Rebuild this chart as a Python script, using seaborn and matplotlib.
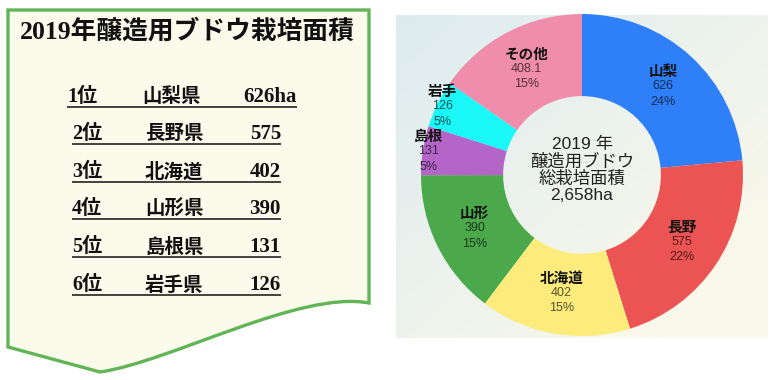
import numpy as np
import matplotlib
matplotlib.use("Agg")
import matplotlib.pyplot as plt
import matplotlib.colors as mcolors
from matplotlib.path import Path
from matplotlib.patches import PathPatch
import seaborn as sns

# ---------------- data ----------------
title = "2019年醸造用ブドウ栽培面積"
ranks = ["1位", "2位", "3位", "4位", "5位", "6位"]
rank_prefs = ["山梨県", "長野県", "北海道", "山形県", "島根県", "岩手県"]
rank_values = ["626ha", "575", "402", "390", "131", "126"]

regions = ["山梨", "長野", "北海道", "山形", "島根", "岩手", "その他"]
areas = [626, 575, 402, 390, 131, 126, 408.1]
value_labels = ["626", "575", "402", "390", "131", "126", "408.1"]
pct_labels = ["24%", "22%", "15%", "15%", "5%", "5%", "15%"]
center_lines = ["2019 年", "醸造用ブドウ", "総栽培面積", "2,658ha"]

slice_colors = ["#2e7ff8", "#ec5353", "#fdec7c", "#4ba84b", "#b466c8", "#1af7f7", "#f08dad"]

# ---------------- style ----------------
sns.set_theme(style="white")
plt.rcParams["font.family"] = ["Liberation Sans", "Noto Sans CJK JP", "DejaVu Sans"]
serif_fam = ["Liberation Serif", "Noto Sans CJK JP", "DejaVu Sans"]

W, H = 780, 380
fig = plt.figure(figsize=(W / 100, H / 100), dpi=100)
fig.patch.set_facecolor("white")

# full-figure pixel axes for decoration and table
bg = fig.add_axes([0, 0, 1, 1])
bg.set_xlim(0, W)
bg.set_ylim(H, 0)
bg.axis("off")

# ---- left document shape ----
verts = [(8, 10), (369, 10), (369, 303),
         (300, 290), (170, 362), (100, 372),
         (8, 347), (8, 10)]
codes = [Path.MOVETO, Path.LINETO, Path.LINETO,
         Path.CURVE4, Path.CURVE4, Path.CURVE4,
         Path.LINETO, Path.CLOSEPOLY]
bg.add_patch(PathPatch(Path(verts, codes), facecolor="#fbfbec",
                       edgecolor="#62b556", lw=2.4, joinstyle="miter", zorder=1))

bg.text(187, 31, title, family=serif_fam, fontsize=18.5, fontweight="bold",
        color="#111111", ha="center", va="center", zorder=3)

row_y = [97, 134, 172, 209, 247, 285]
for i, (rk, pf, vl) in enumerate(zip(ranks, rank_prefs, rank_values)):
    y = row_y[i]
    if i == 0:
        x0, xp, x1 = 67, 142, 297
    else:
        x0, xp, x1 = 72, 145, 281
    bg.text(x0, y, rk, family=serif_fam, fontsize=14.5, fontweight="bold",
            color="#111111", ha="left", va="center", zorder=3)
    bg.text(xp, y, pf, family=serif_fam, fontsize=14, fontweight="bold",
            color="#111111", ha="left", va="center", zorder=3)
    bg.text(x1, y, vl, family=serif_fam, fontsize=15, fontweight="bold",
            color="#111111", ha="right", va="center", zorder=3)
    bg.plot([x0, x1], [y + 10, y + 10], color="#222222", lw=1.2, zorder=3,
            solid_capstyle="butt")

# ---- chart background gradient ----
gx = np.linspace(0, 1, 200)
gy = np.linspace(0, 1, 200)
GX, GY = np.meshgrid(gx, gy)
tgrad = np.clip((GX * 0.6 + GY * 0.6), 0, 1)
c0 = np.array(mcolors.to_rgb("#ddebf0"))
c1 = np.array(mcolors.to_rgb("#f9f8ea"))
img = c0[None, None, :] * (1 - tgrad[..., None]) + c1[None, None, :] * tgrad[..., None]
bg.imshow(img, extent=(396, 768, 338, 15), aspect="auto", zorder=0.5)
bg.set_xlim(0, W)
bg.set_ylim(H, 0)

# ---- donut ----
cx, cy, R = 582, 175, 161
ax = fig.add_axes([(cx - R) / W, (H - cy - R) / H, 2 * R / W, 2 * R / H])
ax.set_facecolor("none")
wedges, _ = ax.pie(areas, colors=slice_colors, startangle=90, counterclock=False,
                   radius=1.0, wedgeprops=dict(width=0.51, edgecolor="none", linewidth=0))
ax.set_xlim(-1, 1)
ax.set_ylim(-1, 1)
ax.set_aspect("equal")
ax.axis("off")

total = sum(areas)
for w, name, vl, pl, col, a in zip(wedges, regions, value_labels, pct_labels, slice_colors, areas):
    mid = np.deg2rad((w.theta1 + w.theta2) / 2)
    r = 0.745 if a / total > 0.08 else 0.965
    x, y = r * np.cos(mid), r * np.sin(mid)
    dark = tuple(np.array(mcolors.to_rgb(col)) * 0.34)
    ax.annotate(name, (x, y), xytext=(0, 11), textcoords="offset points",
                ha="center", va="center", fontsize=10.5, fontweight="bold", color="#111111",
                family=["Noto Sans CJK JP", "DejaVu Sans"])
    ax.annotate(vl, (x, y), xytext=(0, 0), textcoords="offset points",
                ha="center", va="center", fontsize=9, color=dark)
    ax.annotate(pl, (x, y), xytext=(0, -11), textcoords="offset points",
                ha="center", va="center", fontsize=9, color=dark)

ax.text(0, 0.03, "\n".join(center_lines), ha="center", va="center", fontsize=12.5,
        linespacing=1.1, color="#222222")

fig.savefig("out.png", dpi=100)
